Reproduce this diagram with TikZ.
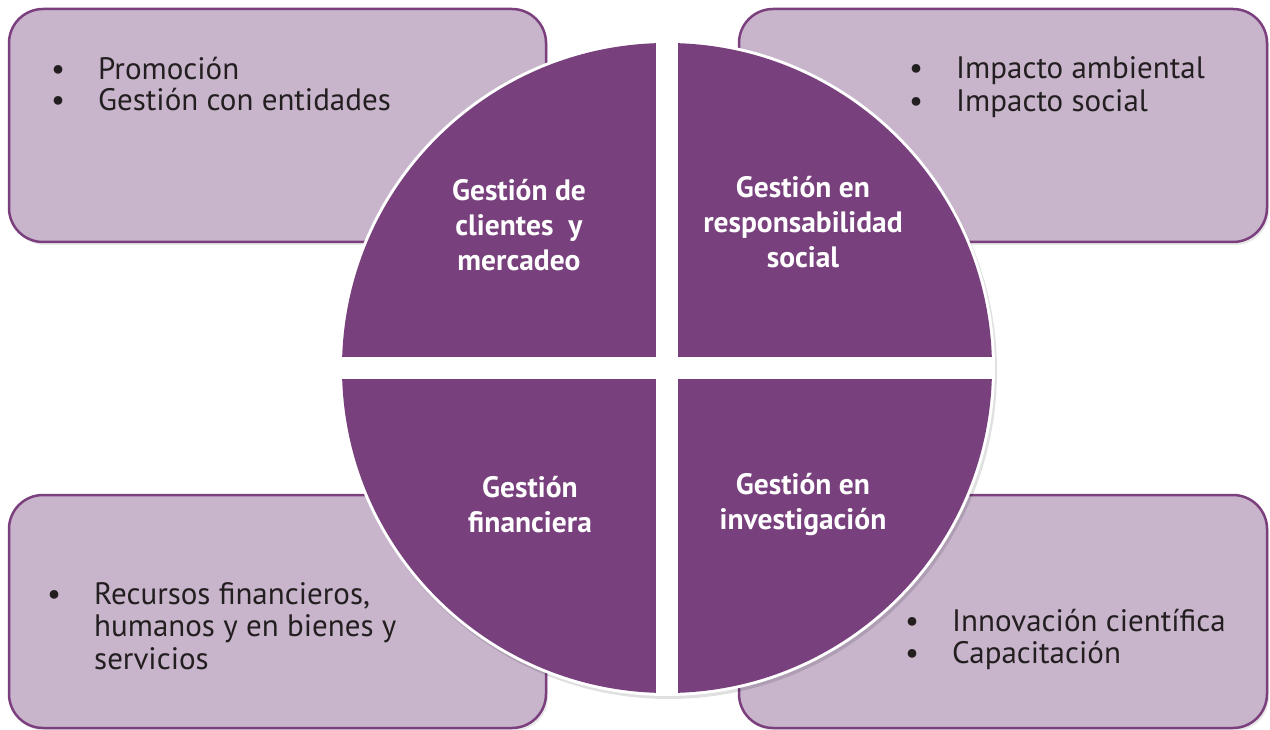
\documentclass[tikz,border=0pt]{standalone}
\usepackage{fontspec}
\setmainfont{PT Sans}
\usetikzlibrary{shadows}
\definecolor{boxfill}{HTML}{C8B5CC}
\definecolor{boxline}{HTML}{7B3F7E}
\definecolor{quadfill}{HTML}{78407C}
\definecolor{textdark}{HTML}{231F20}
\tikzset{
  sidebox/.style={draw=boxline, line width=2.5pt, fill=boxfill, rounded corners=34pt,
    minimum height=233pt, inner sep=0pt,
    drop shadow={opacity=0.18, shadow xshift=2pt, shadow yshift=-3pt}},
  leftbox/.style={sidebox, minimum width=537pt},
  rightbox/.style={sidebox, minimum width=528pt},
  listtext/.style={anchor=base west, inner sep=0pt, text=textdark,
    font=\fontsize{31}{32}\selectfont, align=left},
  quadlabel/.style={text=white, align=center, inner sep=0pt,
    font=\fontsize{29.5}{35}\selectfont\bfseries}
}
\newcommand{\bul}{\makebox[0pt][r]{\makebox[47pt][l]{•}}}
\begin{document}
\begin{tikzpicture}[x=1pt,y=-1pt]
\useasboundingbox (0,0) rectangle (1270,730);
% side boxes
\node[leftbox] (tl) at (277.5,125.5) {};
\node[rightbox] (tr) at (1003,125.5) {};
\node[leftbox] (bl) at (277.5,611.5) {};
\node[rightbox] (br) at (1003,611.5) {};
% circle shadow and white ring
\fill[black, opacity=0.12] (669,371) circle (328);
\node[circle, fill=white, minimum size=656pt, inner sep=0pt] (circ) at (667,368) {};
\begin{scope}
  \clip (667,368) circle (325);
  \fill[quadfill] (300,0) rectangle (656,357);
  \fill[quadfill] (678,0) rectangle (1040,357);
  \fill[quadfill] (300,379) rectangle (656,740);
  \fill[quadfill] (678,379) rectangle (1040,740);
\end{scope}
% quadrant labels
\node[quadlabel] (q1) at (519,225) {Gestión de\\clientes\ \ y\\mercadeo};
\node[quadlabel] (q2) at (803,222) {Gestión en\\responsabilidad\\social};
\node[quadlabel] (q3) at (530,505) {Gestión\\financiera};
\node[quadlabel] (q4) at (803,505) {Gestión en\\investigación};
% list texts (anchored at the baseline of the last line)
\node[listtext] (t1) at (98,111) {\bul Promoción\\[-1pt]\bul Gestión con entidades};
\node[listtext] (t2) at (956,112) {\bul Impacto ambiental\\[1pt]\bul Impacto social};
\node[listtext] (t3) at (94,669) {\bul Recursos financieros,\\[0.5pt]humanos y en bienes y\\[0.5pt]servicios};
\node[listtext] (t4) at (952,663) {\bul Innovación científica\\\bul Capacitación};
\end{tikzpicture}
\end{document}
